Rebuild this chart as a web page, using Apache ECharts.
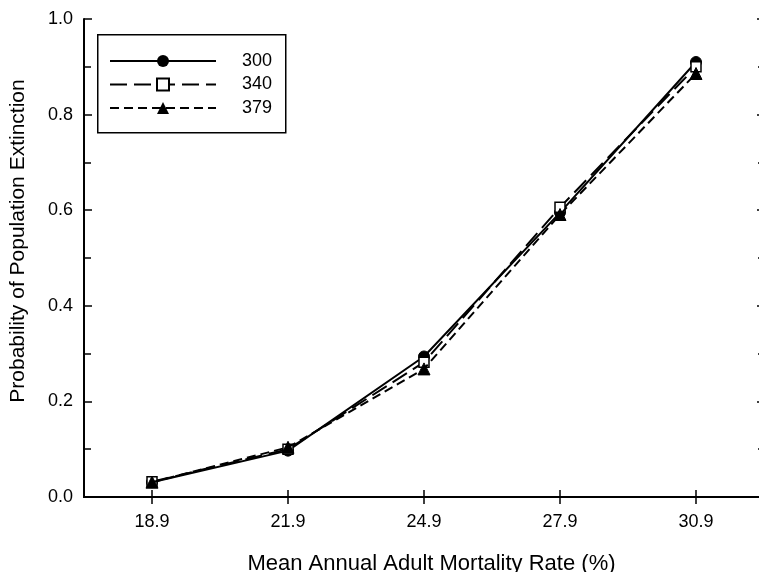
<!DOCTYPE html>
<html>
<head>
<meta charset="utf-8">
<script src="https://cdn.jsdelivr.net/npm/echarts@6/dist/echarts.min.js"></script>
<style>html,body{margin:0;padding:0;background:#fff}#c{width:759px;height:572px}</style>
</head>
<body>
<div id="c"></div>
<script>
const categories = ['18.9', '21.9', '24.9', '27.9', '30.9'];
const s300 = [0.031, 0.097, 0.294, 0.595, 0.910];
const s340 = [0.032, 0.100, 0.282, 0.606, 0.900];
const s379 = [0.031, 0.104, 0.268, 0.591, 0.886];
const yTicks = [0, 0.2, 0.4, 0.6, 0.8, 1.0];

const FONT = 'Liberation Sans';
const chart = echarts.init(document.getElementById('c'));
const axisLine = { show: true, lineStyle: { color: '#000', width: 2 } };
const tickStyle = { color: '#000', width: 1.5 };

chart.setOption({
  animation: false,
  backgroundColor: '#fff',
  grid: { left: 84, width: 680, top: 19, bottom: 75, outerBoundsMode: 'none', containLabel: false },
  graphic: [{
    type: 'rect', left: 97, top: 34, z: 0,
    shape: { width: 188, height: 98 },
    style: { fill: '#fff', stroke: '#000', lineWidth: 1.5 }
  }],
  legend: {
    orient: 'vertical', left: 109, top: 52, z: 10, padding: 0,
    itemWidth: 106, itemHeight: 15, itemGap: 5.5,
    textStyle: { fontFamily: FONT, fontSize: 18, color: '#000', lineHeight: 18, padding: [0, 0, 0, 21] },
    data: ['300', '340', '379']
  },
  xAxis: [{
    type: 'category', data: categories, position: 'bottom', boundaryGap: true,
    axisLine: axisLine,
    axisTick: { show: true, inside: true, length: 7, alignWithLabel: true, lineStyle: tickStyle },
    axisLabel: { fontFamily: FONT, fontSize: 18, color: '#000', margin: 16 },
    splitLine: { show: false },
    name: 'Mean Annual Adult Mortality Rate (%)', nameLocation: 'middle', nameGap: 56,
    nameTextStyle: { fontFamily: FONT, fontSize: 22, color: '#000', padding: [0, 0, 0, 15] }
  }, {
    type: 'category', data: categories, position: 'top', boundaryGap: true,
    axisLine: axisLine,
    axisTick: { show: true, inside: true, length: 7, alignWithLabel: true, lineStyle: tickStyle },
    axisLabel: { show: false }, splitLine: { show: false }
  }],
  yAxis: [{
    type: 'value', min: yTicks[0], max: yTicks[yTicks.length - 1], interval: 0.2, position: 'left',
    axisLine: axisLine,
    axisTick: { show: true, inside: true, length: 8, lineStyle: tickStyle },
    minorTick: { show: true, splitNumber: 2, length: 7, lineStyle: tickStyle },
    axisLabel: { fontFamily: FONT, fontSize: 18, color: '#000', margin: 11, formatter: v => v.toFixed(1) },
    splitLine: { show: false },
    name: 'Probability of Population Extinction', nameLocation: 'middle', nameGap: 55,
    nameTextStyle: { fontFamily: FONT, fontSize: 21, color: '#000', padding: [0, 0, 0, 34] }
  }, {
    type: 'value', min: 0, max: 1, interval: 0.2, position: 'right',
    axisLine: axisLine,
    axisTick: { show: true, inside: true, length: 7, lineStyle: tickStyle },
    minorTick: { show: true, splitNumber: 2, length: 6, lineStyle: tickStyle },
    axisLabel: { show: false }, splitLine: { show: false }
  }],
  series: [{
    name: '300', type: 'line', data: s300, symbol: 'circle', symbolSize: 11,
    lineStyle: { color: '#000', width: 2, type: 'solid' },
    itemStyle: { color: '#000', borderColor: '#000' }, z: 3
  }, {
    name: '340', type: 'line', data: s340, symbol: 'rect', symbolSize: 10,
    lineStyle: { color: '#000', width: 2, type: [17, 7] },
    itemStyle: { color: '#fff', borderColor: '#000', borderWidth: 1.5 }, z: 4
  }, {
    name: '379', type: 'line', data: s379, symbol: 'triangle', symbolSize: 12,
    lineStyle: { color: '#000', width: 2, type: [9, 5] },
    itemStyle: { color: '#000', borderColor: '#000' }, z: 5
  }]
});
</script>
</body>
</html>
